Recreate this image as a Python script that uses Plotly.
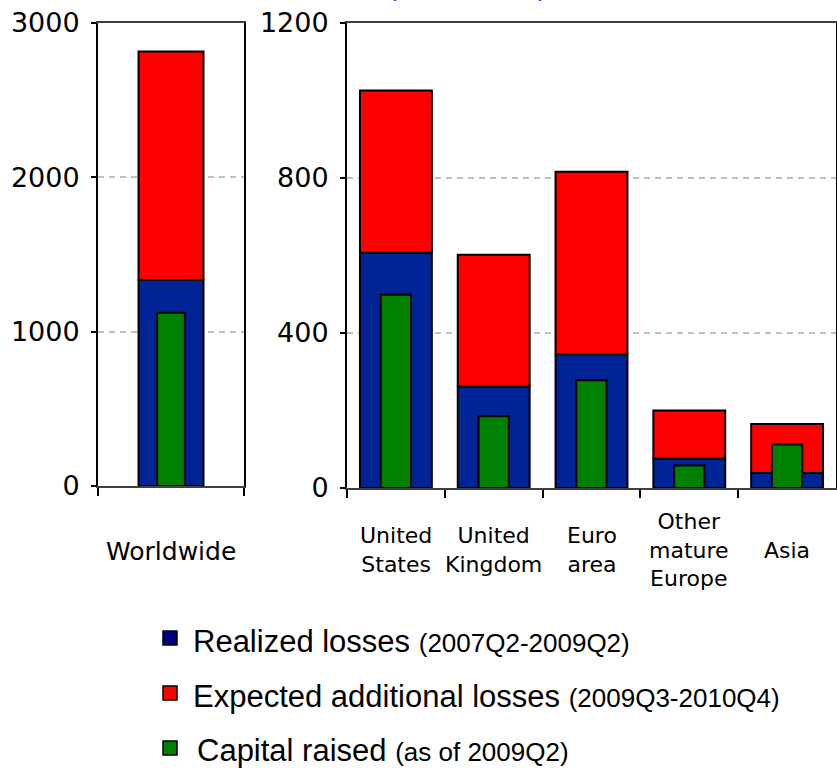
import plotly.graph_objects as go

# Bank writedowns by region (USD billions)
world_cat = ["Worldwide"]
world_realized = [1335]
world_expected = [1480]
world_capital = [1123]

region_cat = ["United States", "United Kingdom", "Euro area", "Other mature Europe", "Asia"]
region_labels = ["United<br>States", "United<br>Kingdom", "Euro<br>area", "Other<br>mature<br>Europe", "Asia"]
region_realized = [607, 262, 345, 76, 39]
region_expected = [419, 340, 471, 124, 126]
region_capital = [499, 185, 278, 58, 112]

legend_main = ["Realized losses", "Expected additional losses", "Capital raised"]
legend_note = ["(2007Q2-2009Q2)", "(2009Q3-2010Q4)", "(as of 2009Q2)"]

BLUE = "#002395"
RED = "#FF0000"
GREEN = "#008000"
LEGEND_COLORS = ["#000080", RED, GREEN]

W, H = 837, 770
TOP, BOTTOM = 23, 488          # pixel rows of the plot area
PH = BOTTOM - TOP


def px(x):
    return x / W


def py(y):
    return (BOTTOM - y) / PH


outline = dict(color="black", width=2)

fig = go.Figure()


def add_panel(cats, realized, expected, capital, xa, ya, wide, narrow):
    fig.add_trace(go.Bar(x=cats, y=realized, width=wide, marker=dict(color=BLUE, line=outline),
                         xaxis=xa, yaxis=ya, name="Realized losses"))
    fig.add_trace(go.Bar(x=cats, y=expected, base=realized, width=wide,
                         marker=dict(color=RED, line=outline),
                         xaxis=xa, yaxis=ya, name="Expected additional losses"))
    fig.add_trace(go.Bar(x=cats, y=capital, width=narrow, marker=dict(color=GREEN, line=outline),
                         xaxis=xa, yaxis=ya, name="Capital raised"))


add_panel(world_cat, world_realized, world_expected, world_capital, "x", "y", 0.445, 0.19)
add_panel(region_cat, region_realized, region_expected, region_capital, "x2", "y2", 0.735, 0.31)

tick_font = dict(family="DejaVu Sans", size=27, color="black")

xcommon = dict(type="category", showticklabels=False, ticks="outside", tickson="boundaries",
               ticklen=8, tickwidth=2, tickcolor="black", showline=True, linecolor="#404040",
               linewidth=2, mirror=True, showgrid=False, automargin=False, fixedrange=True)
ycommon = dict(ticks="outside", ticklen=5, tickwidth=2, tickcolor="black", showline=True,
               linecolor="black", linewidth=2, mirror=True, showgrid=True, gridcolor="#c0c0c0",
               gridwidth=1.5, griddash="6px,5px", zeroline=False, tickfont=tick_font,
               ticklabelstandoff=6, automargin=False, fixedrange=True)

fig.update_layout(
    width=W, height=H,
    margin=dict(l=0, r=0, t=TOP, b=H - BOTTOM, pad=0),
    paper_bgcolor="white", plot_bgcolor="white",
    barmode="overlay", showlegend=False,
    xaxis=dict(domain=[px(98), px(244)], anchor="y", **xcommon),
    yaxis=dict(domain=[py(486), 1], anchor="x", range=[0, 3000],
               tickvals=[0, 1000, 2000, 3000], **ycommon),
    xaxis2=dict(domain=[px(347), px(836)], anchor="y2", **xcommon),
    yaxis2=dict(domain=[0, 1], anchor="x2", range=[0, 1200],
                tickvals=[0, 400, 800, 1200], **ycommon),
)

annotations = []

# Units caption above the panels (runs off the top of the page)
annotations.append(dict(text="(USD billions)", xref="paper", yref="paper", x=px(467), y=py(4.5),
                        xanchor="center", yanchor="bottom", showarrow=False,
                        font=dict(family="Liberation Sans", size=26, color="#1f3fbd")))

# Category labels under each panel
annotations.append(dict(text=world_cat[0], xref="x", yref="paper", x=world_cat[0], y=py(551),
                        xanchor="center", yanchor="middle", showarrow=False,
                        font=dict(family="DejaVu Sans", size=25, color="black")))
for cat, lab in zip(region_cat, region_labels):
    annotations.append(dict(text=lab, xref="x2", yref="paper", x=cat, y=py(550),
                            xanchor="center", yanchor="middle", showarrow=False,
                            font=dict(family="DejaVu Sans", size=22, color="black")))

# Legend rows: coloured square plus label
row_centers = [641, 696, 751]
row_text_x = [191, 191, 195]
shapes = []
for i in range(3):
    cy = row_centers[i]
    shapes.append(dict(type="rect", xref="paper", yref="paper",
                       x0=px(163), x1=px(177), y0=py(cy - 10), y1=py(cy + 4),
                       fillcolor=LEGEND_COLORS[i], line=dict(color="black", width=1.5)))
    annotations.append(dict(
        text=f"{legend_main[i]} <span style='font-size:26px'>{legend_note[i]}</span>",
        xref="paper", yref="paper", x=px(row_text_x[i]), y=py(cy),
        xanchor="left", yanchor="middle", showarrow=False,
        font=dict(family="Liberation Sans", size=31, color="black")))

fig.update_layout(annotations=annotations, shapes=shapes)

fig.write_html("out.html")
